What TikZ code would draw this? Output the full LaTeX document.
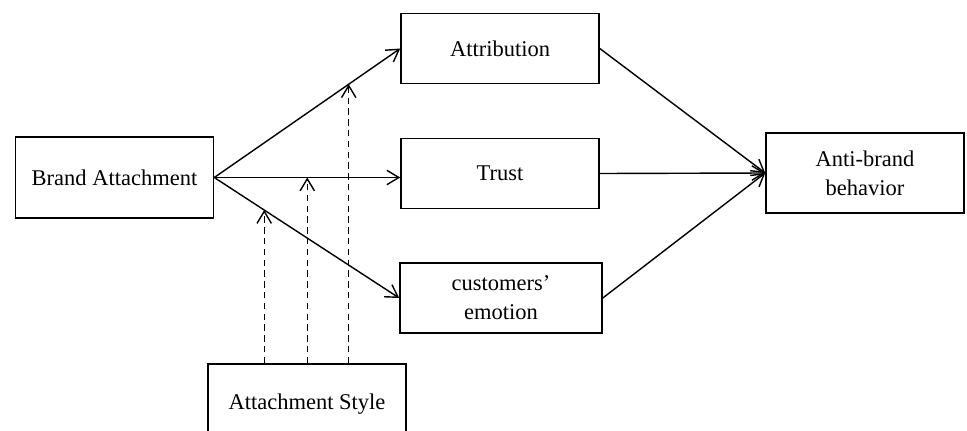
\documentclass[tikz,border=0pt]{standalone}
\usepackage{fontspec}
\setmainfont{Liberation Serif}
\usetikzlibrary{arrows.meta}
\tikzset{
  box/.style = {draw, line width = 1.1pt, minimum width = 49.5mm, minimum height = 17.5mm,
                align = center, font = \fontsize{16}{20.6}\selectfont},
  link/.style = {line width = 1pt, -{Straight Barb[length = 3mm, width = 3.6mm]}},
  moderate/.style = {link, dash pattern = on 1.6mm off 1.1mm}
}
\begin{document}
\begin{tikzpicture}[x = 0.25mm, y = -0.25mm]
%\draw [very thin, color = gray](0, 0) grid [step = 50] (967, 430);
\clip (0, 0) rectangle (967, 430);
\node [box, minimum height = 20.25mm] (brand) at (114.5, 177.5) {Brand Attachment};
\node [box] (attr) at (500, 48.5) {Attribution};
\node [box] (trust) at (500, 173.5) {Trust};
\node [box, minimum width = 50.5mm] (emo) at (501, 298) {customers'\\emotion};
\node [box, minimum height = 20mm] (anti) at (865, 173) {Anti-brand\\behavior};
\node [box, minimum height = 20mm] (style) at (307, 404) {Attachment Style};
\draw [link] (brand.east) -- (attr.west) coordinate [pos = 0.723] (m1);
\draw [link] (brand.east) -- (brand.east -| trust.west) coordinate [pos = 0.5] (m2);
\draw [link] (brand.east) -- (emo.west) coordinate [pos = 0.27] (m3);
\draw [link] (attr.east) -- (anti.west);
\draw [link] (trust.east) -- (anti.west);
\draw [link] (emo.east) -- (anti.west);
\draw [moderate] (m1 |- style.north) -- (m1);
\draw [moderate] (m2 |- style.north) -- (m2);
\draw [moderate] (m3 |- style.north) -- (m3);
\end{tikzpicture}
\end{document}
